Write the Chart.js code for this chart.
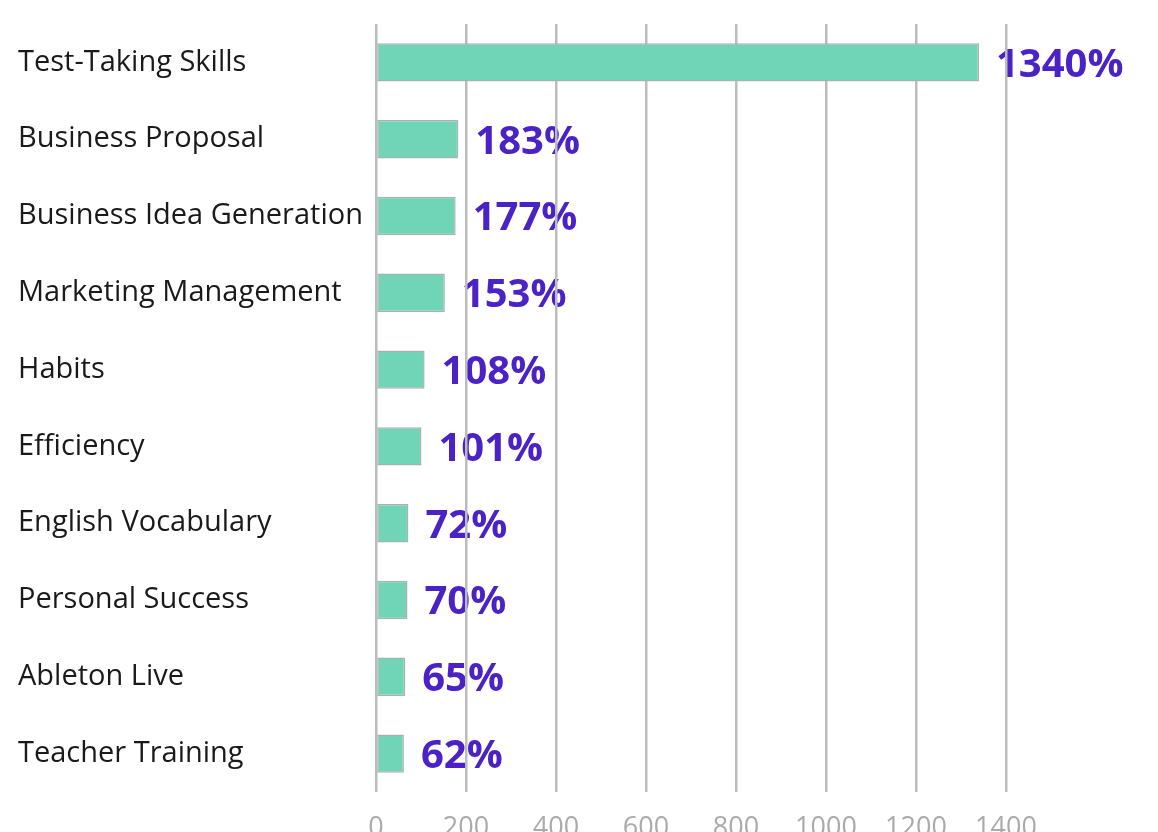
<!DOCTYPE html>
<html lang="en">

<head>
    <meta charset="UTF-8">
    <title>Course growth</title>
    <script src="https://cdn.jsdelivr.net/npm/chart.js"></script>
    <style>
        html, body { margin: 0; padding: 0; background: #fff; overflow: hidden; }
        #grafico-container { position: relative; width: 1158px; height: 860px; }
    </style>
</head>

<body>
    <div id="grafico-container">
        <canvas id="graficoCursos"></canvas>
    </div>

    <script>
        // Data
        const categorias = [
            'Test-Taking Skills',
            'Business Proposal',
            'Business Idea Generation',
            'Marketing Management',
            'Habits',
            'Efficiency',
            'English Vocabulary',
            'Personal Success',
            'Ableton Live',
            'Teacher Training'
        ];
        const valores = [1340, 183, 177, 153, 108, 101, 72, 70, 65, 62];
        const ticksX = [0, 200, 400, 600, 800, 1000, 1200, 1400];

        // value labels next to each bar (drawn under the grid, like the original)
        const rotulosPlugin = {
            id: 'rotulos',
            beforeDraw(chart) {
                const ctx = chart.ctx;
                const meta = chart.getDatasetMeta(0);
                ctx.save();
                ctx.font = 'bold 40px "Open Sans"';
                ctx.fillStyle = '#4b22c6';
                ctx.textAlign = 'left';
                ctx.textBaseline = 'middle';
                meta.data.forEach((bar, i) => {
                    ctx.fillText(valores[i] + '%', bar.x + 17, bar.y + 3);
                });
                ctx.restore();
            }
        };

        const ctx = document.getElementById('graficoCursos').getContext('2d');
        new Chart(ctx, {
            type: 'bar',
            data: {
                labels: categorias,
                datasets: [{
                    data: valores,
                    backgroundColor: '#6fd5b6',
                    borderColor: '#a9b3ae',
                    borderWidth: 1.5,
                    borderSkipped: false,
                    categoryPercentage: 1,
                    barPercentage: 0.5
                }]
            },
            options: {
                indexAxis: 'y',
                responsive: true,
                maintainAspectRatio: false,
                animation: false,
                layout: { padding: { left: 18, right: 152, top: 24, bottom: 0 } },
                plugins: {
                    legend: { display: false },
                    tooltip: { enabled: false }
                },
                scales: {
                    x: {
                        min: 0,
                        max: 1400,
                        afterBuildTicks: (scale) => { scale.ticks = ticksX.map(v => ({ value: v })); },
                        grid: { color: '#bcbcbc', lineWidth: 2.5, drawTicks: false },
                        border: { display: false },
                        ticks: {
                            padding: 20,
                            color: '#aaaaaa',
                            font: { family: 'Open Sans', size: 27 },
                            callback: (value) => String(value)
                        },
                        afterFit: (scale) => { scale.height = 68; }
                    },
                    y: {
                        grid: { display: false },
                        border: { display: false },
                        ticks: {
                            crossAlign: 'far',
                            color: '#1a1a1a',
                            font: { family: 'Open Sans', size: 29 }
                        },
                        afterFit: (scale) => { scale.width = 358; }
                    }
                }
            },
            plugins: [rotulosPlugin]
        });
    </script>
</body>

</html>
